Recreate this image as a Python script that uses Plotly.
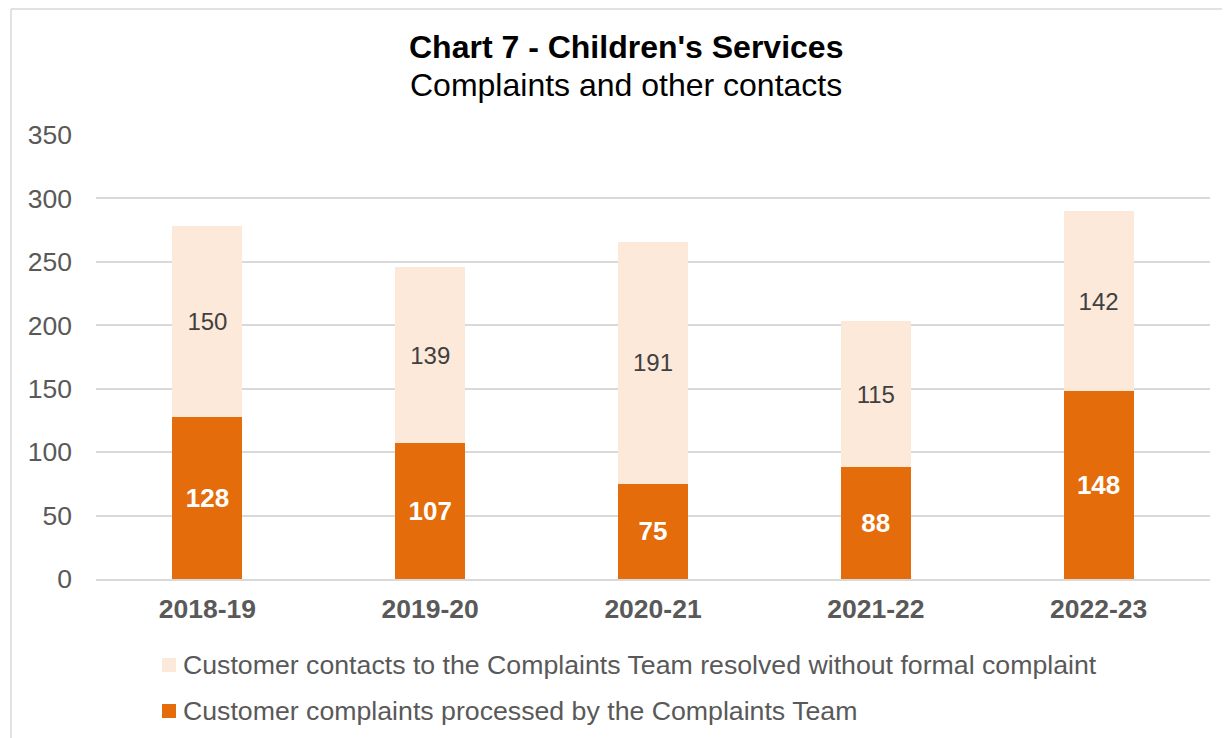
import plotly.graph_objects as go

categories = ["2018-19", "2019-20", "2020-21", "2021-22", "2022-23"]
complaints = [128, 107, 75, 88, 148]
contacts = [150, 139, 191, 115, 142]

name_complaints = "Customer complaints processed by the Complaints Team"
name_contacts = "Customer contacts to the Complaints Team resolved without formal complaint"

DARK = "#E46C0A"
LIGHT = "#FDE9D9"
GRAY = "#595959"
FONT = "Liberation Sans, Arial, sans-serif"

# The page body adds an 8px margin; figure is sized/placed to compensate.
OFF = 8
FW, FH = 1230 - OFF, 738 - OFF

# pixel geometry of plot area in window coordinates
L, R, T, B = 96, 1210, 135, 579
W, H = R - L, B - T

def px(x):  # window px -> paper
    return (x - L) / W

def py(y):
    return (B - y) / H

fig = go.Figure()
fig.add_trace(go.Bar(
    x=categories, y=complaints, name=name_complaints,
    marker=dict(color=DARK, line=dict(width=0)),
    text=complaints, textposition="inside", insidetextanchor="middle",
    textfont=dict(family=FONT, size=26, color="white", weight="bold"),
    showlegend=False,
))
fig.add_trace(go.Bar(
    x=categories, y=contacts, name=name_contacts,
    marker=dict(color=LIGHT, line=dict(width=0)),
    text=contacts, textposition="inside", insidetextanchor="middle",
    textfont=dict(family=FONT, size=24, color="#404040"),
    showlegend=False,
))

# legend drawn as swatches + labels (top row: contacts, bottom row: complaints)
legend_rows = [(name_contacts, LIGHT, 665, 665), (name_complaints, DARK, 711, 711)]
shapes = [
    dict(type="line", xref="paper", yref="paper",
         x0=px(11), x1=px(11), y0=py(9), y1=py(760),
         line=dict(color="#D9D9D9", width=1.5)),
    dict(type="line", xref="paper", yref="paper",
         x0=px(11), x1=px(1250), y0=py(9), y1=py(9),
         line=dict(color="#D9D9D9", width=1.5)),
]
annotations = [
    dict(text="<b>Chart 7 - Children's Services</b>", xref="paper", yref="paper",
         x=px(626), y=py(47), xanchor="center", yanchor="middle", showarrow=False,
         font=dict(family=FONT, size=32, color="black")),
    dict(text="Complaints and other contacts", xref="paper", yref="paper",
         x=px(626), y=py(85), xanchor="center", yanchor="middle", showarrow=False,
         font=dict(family=FONT, size=32, color="black")),
]
for label, color, sy, ty in legend_rows:
    shapes.append(dict(type="rect", xref="paper", yref="paper",
                       x0=px(162), x1=px(176), y0=py(sy - 7), y1=py(sy + 7),
                       fillcolor=color, line=dict(width=0)))
    annotations.append(dict(text=label, xref="paper", yref="paper",
                            x=px(181), y=py(ty), xanchor="left", yanchor="middle",
                            showarrow=False,
                            font=dict(family=FONT, size=26.7, color=GRAY)))

fig.update_layout(
    barmode="stack",
    bargap=0.686,
    width=FW, height=FH,
    margin=dict(l=L - OFF, r=1230 - R, t=T - OFF, b=738 - B),
    paper_bgcolor="white", plot_bgcolor="white",
    font=dict(family=FONT, color=GRAY, size=26),
    showlegend=False,
    xaxis=dict(
        showgrid=False, showline=True, linecolor="#D9D9D9", linewidth=1.5,
        tickfont=dict(family=FONT, size=26.5, color=GRAY, weight="bold"),
        ticks="", ticklabelstandoff=5,
    ),
    yaxis=dict(
        range=[0, 350], dtick=50, showgrid=True, gridcolor="#D9D9D9", gridwidth=1.5,
        zeroline=False, showline=False, ticks="",
        tickfont=dict(family=FONT, size=26.5, color=GRAY),
        ticklabelstandoff=23,
    ),
    shapes=shapes,
    annotations=annotations,
)

fig.write_html("out.html")
